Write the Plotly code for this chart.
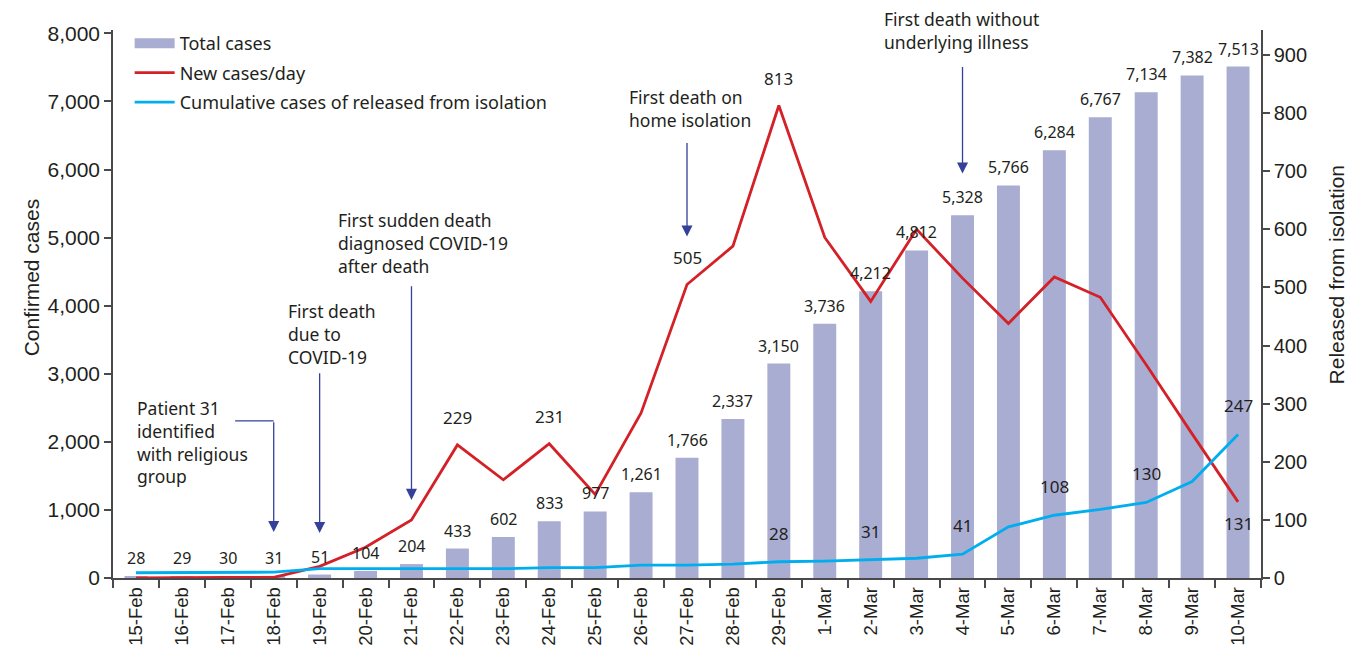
import plotly.graph_objects as go

categories = ["15-Feb", "16-Feb", "17-Feb", "18-Feb", "19-Feb", "20-Feb", "21-Feb", "22-Feb",
              "23-Feb", "24-Feb", "25-Feb", "26-Feb", "27-Feb", "28-Feb", "29-Feb", "1-Mar",
              "2-Mar", "3-Mar", "4-Mar", "5-Mar", "6-Mar", "7-Mar", "8-Mar", "9-Mar", "10-Mar"]
total_cases = [28, 29, 30, 31, 51, 104, 204, 433, 602, 833, 977, 1261, 1766, 2337, 3150, 3736,
               4212, 4812, 5328, 5766, 6284, 6767, 7134, 7382, 7513]
new_cases = [0, 1, 1, 1, 20, 53, 100, 229, 169, 231, 144, 284, 505, 571, 813, 586,
             476, 600, 516, 438, 518, 483, 367, 248, 131]
released = [9, 9, 9, 10, 16, 16, 16, 16, 16, 18, 18, 22, 22, 24, 28, 29,
            31, 34, 41, 88, 108, 118, 130, 166, 247]

new_label_above = ["22-Feb", "24-Feb", "27-Feb", "29-Feb"]
new_label_below = ["10-Mar"]
released_labels = ["29-Feb", "2-Mar", "4-Mar", "6-Mar", "8-Mar", "10-Mar"]

BAR = "#A9ADD1"
RED = "#D42027"
CYAN = "#00AEEF"
AX = "#4A4A4A"
TXT = "#231F20"
NAVY = "#34409A"
TICKF = "Liberation Sans, Arial, sans-serif"
LABF = "Noto Sans, sans-serif"

fig = go.Figure()
fig.add_trace(go.Bar(x=categories, y=total_cases, name="Total cases", marker_color=BAR,
                     marker_line_width=0, yaxis="y", showlegend=False))
# legend-only entry for the bars (wide rectangle swatch)
fig.add_trace(go.Scatter(x=[None], y=[None], name="Total cases", mode="lines",
                         line=dict(color=BAR, width=12), legendgroup="a", yaxis="y"))
fig.add_trace(go.Scatter(x=categories, y=new_cases, name="New cases/day", mode="lines",
                         line=dict(color=RED, width=2.8), yaxis="y2", legendgroup="b"))
fig.add_trace(go.Scatter(x=categories, y=released, name="Cumulative cases of released from isolation",
                         mode="lines", line=dict(color=CYAN, width=2.8), yaxis="y2", legendgroup="c"))

ann = []
for c, v in zip(categories, total_cases):
    ann.append(dict(x=c, y=v, xref="x", yref="y", text=f"{v:,}", showarrow=False,
                    yanchor="bottom", yshift=5, font=dict(family=LABF, size=16, color=TXT)))
for c in new_label_above:
    v = new_cases[categories.index(c)]
    ann.append(dict(x=c, y=v, xref="x", yref="y2", text=f"{v:,}", showarrow=False,
                    yanchor="bottom", yshift=14, font=dict(family=LABF, size=17, color=TXT)))
for c in new_label_below:
    v = new_cases[categories.index(c)]
    ann.append(dict(x=c, y=v, xref="x", yref="y2", text=f"{v:,}", showarrow=False,
                    yanchor="top", yshift=-8, font=dict(family=LABF, size=17, color=TXT)))
for c in released_labels:
    v = released[categories.index(c)]
    ann.append(dict(x=c, y=v, xref="x", yref="y2", text=f"{v:,}", showarrow=False,
                    yanchor="bottom", yshift=15, font=dict(family=LABF, size=17, color=TXT)))

events = [
    ("Patient 31<br>identified<br>with religious<br>group", 0.019, 0.3365, "18-Feb", 2309, 676),
    ("First death<br>due to<br>COVID-19", 0.151, 0.513, "19-Feb", 3029, 662),
    ("First sudden death<br>diagnosed COVID-19<br>after death", 0.194, 0.6785, "21-Feb", 4309, 1147),
    ("First death on<br>home isolation", 0.448, 0.9037, "27-Feb", 6412, 5015),
    ("First death without<br>underlying illness", 0.670, 1.0455, "4-Mar", 7529, 5941),
]
for text, px, py, cat, tail, tip in events:
    ann.append(dict(x=px, y=py, xref="paper", yref="paper", text=text, showarrow=False,
                    xanchor="left", yanchor="top", align="left",
                    font=dict(family=LABF, size=17.5, color=TXT)))
    i = categories.index(cat)
    ann.append(dict(x=i, y=tip, ax=i, ay=tail, xref="x", yref="y", axref="x", ayref="y",
                    text="", showarrow=True, arrowhead=2, arrowsize=1.7, arrowwidth=1.3,
                    arrowcolor=NAVY))

ann.append(dict(x=-0.083, y=0.549, xref="paper", yref="paper", text="Confirmed cases",
                textangle=-90, showarrow=False, font=dict(family=TICKF, size=21, color=TXT)))
ann.append(dict(x=1.0775, y=0.553, xref="paper", yref="paper", text="Released from isolation",
                textangle=-90, showarrow=False, font=dict(family=TICKF, size=21, color=TXT)))

shapes = [dict(type="line", xref="x", yref="y", x0=2.16, x1=3, y0=2309, y1=2309,
               line=dict(color=NAVY, width=1.3))]

fig.update_layout(
    width=1362, height=654,
    margin=dict(l=105, r=109, t=22, b=84),
    plot_bgcolor="white", paper_bgcolor="white",
    bargap=0.5,
    showlegend=True,
    legend=dict(x=0.0145, y=1.009, xanchor="left", yanchor="top", bgcolor="rgba(0,0,0,0)",
                font=dict(family=LABF, size=18, color=TXT), traceorder="grouped",
                itemwidth=40, tracegroupgap=3),
    xaxis=dict(type="category", tickangle=-90, showline=True, linecolor=AX, linewidth=1.5,
               ticks="outside", tickson="boundaries", ticklen=8, tickcolor=AX, tickwidth=1.5,
               tickfont=dict(family=TICKF, size=18.5, color=TXT), showgrid=False, zeroline=False,
               automargin=False),
    yaxis=dict(range=[0, 8050], tickvals=[0, 1000, 2000, 3000, 4000, 5000, 6000, 7000, 8000],
               tickformat=",", showline=True, linecolor=AX, linewidth=1.5, ticks="outside",
               ticklen=7, tickcolor=AX, tickwidth=1.5, showgrid=False, zeroline=False,
               tickfont=dict(family=TICKF, size=21, color=TXT), automargin=False),
    yaxis2=dict(range=[0, 943], tickvals=[0, 100, 200, 300, 400, 500, 600, 700, 800, 900],
                overlaying="y", side="right", showline=True, linecolor=AX, linewidth=1.5,
                ticks="outside", ticklen=7, tickcolor=AX, tickwidth=1.5, showgrid=False,
                zeroline=False, tickfont=dict(family=TICKF, size=20, color=TXT), automargin=False),
    annotations=ann,
    shapes=shapes,
)

fig.write_html("out.html")
